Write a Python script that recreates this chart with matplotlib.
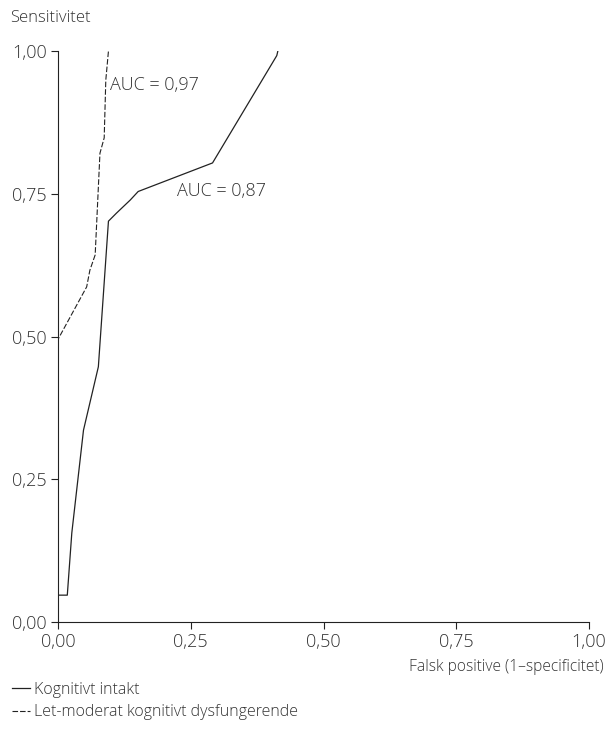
import matplotlib.pyplot as plt

plt.rcParams['font.family'] = ['Open Sans', 'DejaVu Sans']
plt.rcParams['font.weight'] = 'light'

# ROC curve: kognitivt intakt (solid)
fpr_intakt = [0.0, 0.0, 0.0175, 0.026, 0.048, 0.076, 0.095, 0.11, 0.136, 0.151, 0.291, 0.412, 0.414]
tpr_intakt = [0.0, 0.047, 0.047, 0.156, 0.336, 0.447, 0.702, 0.716, 0.739, 0.754, 0.804, 0.992, 1.0]

# ROC curve: let-moderat kognitivt dysfungerende (dashed)
fpr_dys = [0.0, 0.0, 0.054, 0.06, 0.07, 0.079, 0.087, 0.09, 0.095]
tpr_dys = [0.0, 0.495, 0.587, 0.616, 0.643, 0.821, 0.848, 0.949, 1.0]

ticks = [0.0, 0.25, 0.5, 0.75, 1.0]
tick_labels = ['0,00', '0,25', '0,50', '0,75', '1,00']

txt = '#333333'
fig = plt.figure(figsize=(6.08, 7.29), dpi=100)
ax = fig.add_axes([0.0954, 0.1468, 0.8734, 0.7832])

ax.plot(fpr_intakt, tpr_intakt, color='#222222', lw=0.9, label='Kognitivt intakt')
ax.plot(fpr_dys, tpr_dys, color='#222222', lw=0.8, dashes=(5, 1.8),
        label='Let-moderat kognitivt dysfungerende')

ax.set_xlim(0, 1)
ax.set_ylim(0, 1)
ax.set_xticks(ticks)
ax.set_xticklabels(tick_labels)
ax.set_yticks(ticks)
ax.set_yticklabels(tick_labels)
ax.tick_params(direction='out', length=5, width=0.8, colors='#222222',
               labelcolor=txt, labelsize=13, pad=3)
for s in ['top', 'right']:
    ax.spines[s].set_visible(False)
for s in ['left', 'bottom']:
    ax.spines[s].set_linewidth(0.8)
    ax.spines[s].set_color('#222222')

ax.text(0.098, 0.94, 'AUC = 0,97', fontsize=13, color=txt, ha='left', va='center')
ax.text(0.225, 0.755, 'AUC = 0,87', fontsize=13, color=txt, ha='left', va='center')

fig.text(0.016, 0.975, 'Sensitivitet', fontsize=12, color=txt, ha='left', va='center')
fig.text(0.993, 0.085, 'Falsk positive (1\u2013specificitet)', fontsize=11.2, color=txt,
         ha='right', va='center')

ax.legend(loc='upper left', bbox_to_anchor=(0.0197, 0.065), bbox_transform=fig.transFigure,
          frameon=False, fontsize=11.5, handlelength=1.15, handletextpad=0.25,
          labelspacing=0.42, labelcolor=txt, borderaxespad=0, borderpad=0)

fig.savefig('out.png', dpi=100)
